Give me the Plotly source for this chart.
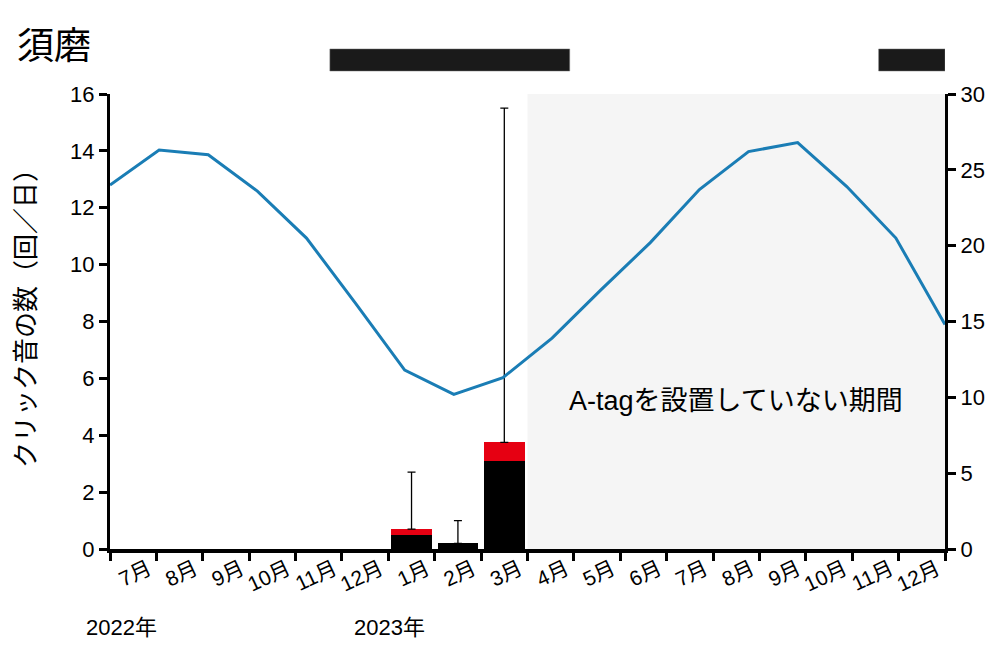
import plotly.graph_objects as go

# months Jul 2022 - Dec 2023
months = ["7月", "8月", "9月", "10月", "11月", "12月",
          "1月", "2月", "3月", "4月", "5月", "6月",
          "7月", "8月", "9月", "10月", "11月", "12月"]
years = ["2022年", "2023年"]
year_pos = [-0.56, 5.22]

# click counts per day (stacked) and error bar tops
clicks_black = [0, 0, 0, 0, 0, 0, 0.5, 0.2, 3.1, 0, 0, 0, 0, 0, 0, 0, 0, 0]
clicks_red = [0, 0, 0, 0, 0, 0, 0.2, 0.0, 0.65, 0, 0, 0, 0, 0, 0, 0, 0, 0]
err_top = [None, None, None, None, None, None, 2.7, 1.0, 15.5,
           None, None, None, None, None, None, None, None, None]

# water temperature (right axis)
temp = [24.0, 26.3, 26.0, 23.6, 20.5, 16.2, 11.8, 10.2, 11.3,
        13.9, 17.1, 20.2, 23.7, 26.2, 26.8, 23.9, 20.5, 14.8]

# periods marked with black bars above the plot (in month units)
presence = [(4.74, 9.91), (16.57, 18.0)]
no_tag = (9.0, 18.0)

xc = [i + 0.5 for i in range(len(months))]
# rotated labels are anchored at their right end, so push them right a bit
xlab = [i + 0.83 for i in range(len(months))]
tot = [b + r for b, r in zip(clicks_black, clicks_red)]
ex = [x for x, e in zip(xc, err_top) if e is not None]
ey = [t for t, e in zip(tot, err_top) if e is not None]
ep = [e - t for t, e in zip(tot, err_top) if e is not None]

jp = "Liberation Sans, Noto Sans CJK JP"

fig = go.Figure()
fig.add_trace(go.Bar(x=xc, y=clicks_black, marker_color="black", width=0.88,
                     marker_line_width=0))
fig.add_trace(go.Bar(x=xc, y=clicks_red, marker_color="#e60012", width=0.88,
                     marker_line_width=0))
fig.add_trace(go.Scatter(x=ex, y=ey, mode="markers",
                         marker=dict(size=1, color="rgba(0,0,0,0)"),
                         error_y=dict(type="data", array=ep, arrayminus=[0] * len(ep),
                                      color="black", thickness=1.3, width=4)))
fig.add_trace(go.Scatter(x=list(range(len(temp))), y=temp, mode="lines",
                         line=dict(color="#1a7db5", width=3),
                         xaxis="x2", yaxis="y2"))

fig.add_shape(type="rect", xref="x", yref="y", x0=no_tag[0], x1=no_tag[1], y0=0, y1=16,
              fillcolor="#f5f5f5", line_width=0, layer="below")
for a, b in presence:
    fig.add_shape(type="rect", xref="x", yref="paper", x0=a, x1=b, y0=1.0505, y1=1.099,
                  fillcolor="#1a1a1a", line=dict(color="#777", width=0.5))

fig.add_annotation(x=13.5, y=5.2, text="A-tagを設置していない期間", showarrow=False,
                   font=dict(family=jp, size=27, color="black"))
for t, p in zip(years, year_pos):
    fig.add_annotation(x=(p * 46.4) / 835, y=-78 / 455, xref="paper", yref="paper",
                       text=t, showarrow=False, xanchor="left", yanchor="middle",
                       font=dict(family=jp, size=22, color="black"))
fig.add_annotation(x=-95 / 835, y=1 + 47 / 455, xref="paper", yref="paper", text="須磨",
                   showarrow=False, xanchor="left", yanchor="middle",
                   font=dict(family=jp, size=37, color="black"))
fig.add_annotation(x=-84 / 835, y=0.521, xref="paper", yref="paper",
                   text="クリック音の数（回／日）", textangle=-90, showarrow=False,
                   xanchor="center", yanchor="middle",
                   font=dict(family=jp, size=26, color="black"))

fig.update_layout(
    width=1000, height=667,
    margin=dict(l=102, r=63, t=86, b=126),
    plot_bgcolor="white", paper_bgcolor="white",
    barmode="stack", showlegend=False, bargap=0,
    xaxis=dict(range=[0, 18], tickvals=xlab, ticktext=months, ticks="",
               tickangle=-25, tickfont=dict(family=jp, size=21, color="black"),
               ticklabelstandoff=-4,
               showgrid=False, zeroline=False, showline=True, linecolor="black",
               linewidth=4, automargin=False,
               minor=dict(ticks="outside", tick0=0, dtick=1, ticklen=8,
                          tickwidth=3, tickcolor="black", showgrid=False)),
    xaxis2=dict(range=[0, 17], overlaying="x", visible=False),
    yaxis=dict(range=[0, 16], dtick=2, ticks="outside", ticklen=8, tickwidth=3,
               tickcolor="black", showline=True, linewidth=3, linecolor="black",
               showgrid=False, zeroline=False, automargin=False,
               tickfont=dict(family=jp, size=22, color="black")),
    yaxis2=dict(range=[0, 30], dtick=5, overlaying="y", side="right",
                ticks="outside", ticklen=8, tickwidth=3, tickcolor="black",
                showline=True, linewidth=3, linecolor="black", showgrid=False,
                zeroline=False, automargin=False,
                tickfont=dict(family=jp, size=22, color="black")),
)

fig.write_html("out.html")
